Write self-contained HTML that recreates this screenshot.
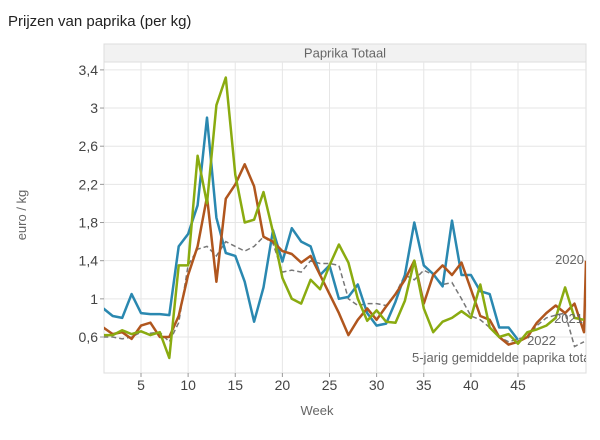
<!DOCTYPE html>
<html><head><meta charset="utf-8"><style>
body{margin:0;background:#fff;width:600px;height:435px;overflow:hidden;font-family:"Liberation Sans",sans-serif}
</style></head><body>
<svg id="s" width="600" height="435" xmlns="http://www.w3.org/2000/svg" font-family="Liberation Sans, sans-serif">
<text x="8" y="26" font-size="15" fill="#222">Prijzen van paprika (per kg)</text>
<rect x="104" y="44" width="482" height="18" fill="#f2f2f2" stroke="#ddd"/>
<text x="345" y="57.5" font-size="13" fill="#666" text-anchor="middle">Paprika Totaal</text>
<rect x="104" y="62" width="482" height="311" fill="#fff" stroke="#ddd"/>
<g id="grid"></g>
<defs><clipPath id="c"><rect x="104" y="62" width="482" height="311"/></clipPath></defs>
<g id="series" clip-path="url(#c)"></g>
<text x="317" y="415" font-size="13" fill="#666" text-anchor="middle">Week</text>
<text transform="translate(26,215) rotate(-90)" font-size="13" fill="#666" text-anchor="middle">euro / kg</text>
</svg>
<script>
var NS="http://www.w3.org/2000/svg";
function X(w){return w>=53?586:141+(w-5)*9.425}
function Y(v){return 337-(v-0.6)*95.4}
function el(t,a,p,txt){var e=document.createElementNS(NS,t);for(var k in a)e.setAttribute(k,a[k]);if(txt)e.textContent=txt;document.getElementById(p).appendChild(e);return e}
var yt=[[0.6,"0,6"],[1,"1"],[1.4,"1,4"],[1.8,"1,8"],[2.2,"2,2"],[2.6,"2,6"],[3,"3"],[3.4,"3,4"]];
yt.forEach(function(t){var y=Y(t[0]);el("line",{x1:104,x2:586,y1:y,y2:y,stroke:"#e6e6e6"},"grid");el("line",{x1:100,x2:104,y1:y,y2:y,stroke:"#999"},"grid");el("text",{x:98,y:y+5,"font-size":14,fill:"#444","text-anchor":"end"},"grid",t[1]);});
for(var w=5;w<=45;w+=5){var x=X(w);el("line",{x1:x,x2:x,y1:62,y2:373,stroke:"#e6e6e6"},"grid");el("line",{x1:x,x2:x,y1:373,y2:377,stroke:"#999"},"grid");el("text",{x:x,y:390,"font-size":14,fill:"#444","text-anchor":"middle"},"grid",String(w));}
var blue=[0.9,0.82,0.8,1.05,0.85,0.84,0.84,0.83,1.55,1.68,1.98,2.9,1.85,1.48,1.45,1.18,0.76,1.12,1.72,1.39,1.74,1.6,1.55,1.25,1.35,1.0,1.02,1.15,0.85,0.72,0.74,0.97,1.25,1.8,1.35,1.26,1.13,1.82,1.25,1.25,1.08,1.05,0.7,0.7,0.57];
var green=[0.62,0.62,0.67,0.63,0.66,0.62,0.65,0.38,1.35,1.35,2.5,2.0,3.03,3.32,2.3,1.8,1.83,2.12,1.7,1.22,1.0,0.95,1.2,1.1,1.35,1.57,1.38,1.0,0.77,0.88,0.76,0.75,0.98,1.4,0.9,0.65,0.76,0.8,0.87,0.8,1.15,0.7,0.6,0.63,0.53,0.65,0.68,0.72,0.8,1.12,0.8,0.78];
var orange=[0.7,0.63,0.65,0.58,0.72,0.75,0.6,0.6,0.82,1.25,1.55,2.07,1.18,2.05,2.2,2.41,2.18,1.65,1.6,1.5,1.47,1.38,1.45,1.25,1.05,0.85,0.62,0.78,0.9,0.78,0.92,1.05,1.2,1.4,0.95,1.25,1.35,1.25,1.38,1.1,0.82,0.78,0.6,0.52,0.55,0.6,0.75,0.85,0.93,0.85,0.95,0.65,1.4];
var avg=[0.6,0.6,0.58,0.6,0.65,0.64,0.65,0.55,0.75,1.35,1.52,1.55,1.45,1.6,1.55,1.5,1.55,1.65,1.58,1.28,1.3,1.28,1.4,1.37,1.37,1.35,1.0,0.93,0.95,0.95,0.93,1.05,1.25,1.2,1.3,1.25,1.15,1.17,1.0,0.82,0.78,0.7,0.6,0.55,0.58,0.6,0.72,0.8,0.83,0.85,0.5,0.55];
function pts(a){return a.map(function(v,i){return X(i+1).toFixed(1)+","+Y(v).toFixed(1)}).join(" ")}
el("polyline",{points:pts(avg),fill:"none",stroke:"#777","stroke-width":1.5,"stroke-dasharray":"5,3"},"series");
el("polyline",{points:pts(blue),fill:"none",stroke:"#2a88b0","stroke-width":2.5,"stroke-linejoin":"round"},"series");
el("polyline",{points:pts(orange),fill:"none",stroke:"#b0561e","stroke-width":2.5,"stroke-linejoin":"round"},"series");
el("polyline",{points:pts(green),fill:"none",stroke:"#8aab10","stroke-width":2.5,"stroke-linejoin":"round"},"series");
el("text",{x:584,y:264,"font-size":13,fill:"#666","text-anchor":"end"},"series","2020");
el("text",{x:583,y:323,"font-size":13,fill:"#666","text-anchor":"end"},"series","2021");
el("text",{x:556,y:345,"font-size":13,fill:"#666","text-anchor":"end"},"series","2022");
el("text",{x:412,y:362,"font-size":13,fill:"#666"},"series","5-jarig gemiddelde paprika totaal");
</script>
</body></html>
